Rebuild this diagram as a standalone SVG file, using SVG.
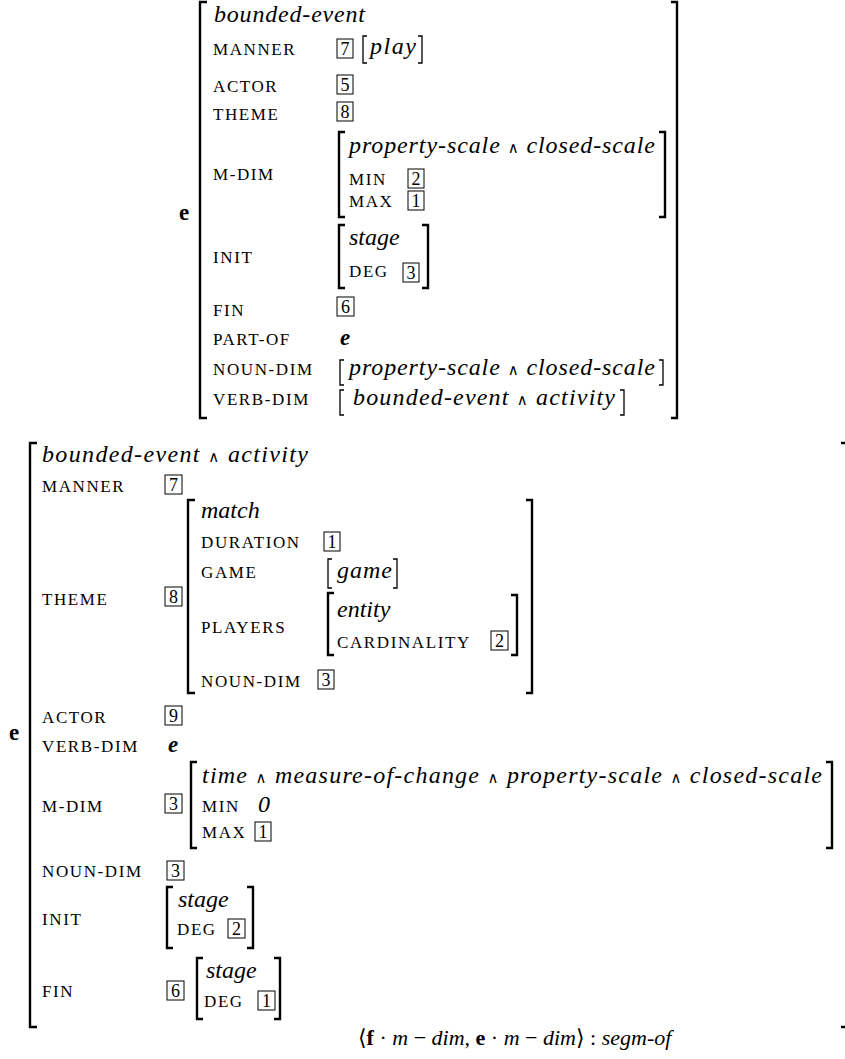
<svg xmlns="http://www.w3.org/2000/svg" width="845" height="1059" viewBox="0 0 845 1059">
<style>
text{font-family:"Liberation Serif","DejaVu Serif",serif;fill:#000}
.it{font-style:italic;font-size:24px}
.sc{font-size:17px;letter-spacing:1.6px}
.bf{font-weight:bold;font-size:23px}
.bi{font-weight:bold;font-style:italic;font-size:23px}
.n{font-size:18px;text-anchor:middle}
.w{font-style:normal;font-size:15px;font-family:"DejaVu Sans",sans-serif}
.bx{fill:none;stroke:#000;stroke-width:1}
.bb{fill:none;stroke:#000;stroke-width:2.4}
.sb{fill:none;stroke:#000;stroke-width:1.3}
.fm{font-size:22px}
.fm .it{font-size:22px}
.fm .bf{font-size:22px}
</style>
<rect width="845" height="1059" fill="#fff"/>
<g id="top">
<text class="bf" x="179" y="220">e</text>
<path class="bb" d="M207,2 H200 V418 H207"/>
<path class="bb" d="M671,2 H677 V418 H671"/>
<text class="it" x="214" y="22" textLength="151">bounded-event</text>
<text class="sc" x="213" y="55">MANNER</text>
<rect class="bx" x="337" y="39" width="16" height="19"/><text class="n" x="345" y="55">7</text>
<path class="sb" d="M367,36 H363 V63 H367"/>
<text class="it" x="370" y="54" textLength="46">play</text>
<path class="sb" d="M418,36 H422 V63 H418"/>
<text class="sc" x="213" y="92">ACTOR</text>
<rect class="bx" x="337" y="75" width="16" height="19"/><text class="n" x="345" y="91">5</text>
<text class="sc" x="213" y="120">THEME</text>
<rect class="bx" x="337" y="102" width="16" height="19"/><text class="n" x="345" y="118">8</text>
<text class="sc" x="213" y="180">M-DIM</text>
<path class="bb" d="M345,132 H339 V217 H345"/>
<path class="bb" d="M659,132 H665 V217 H659"/>
<text class="it" x="349" y="153" textLength="306">property-scale <tspan class="w">∧</tspan> closed-scale</text>
<text class="sc" x="349" y="185">MIN</text>
<rect class="bx" x="408" y="169" width="16" height="19"/><text class="n" x="416" y="185">2</text>
<text class="sc" x="349" y="207">MAX</text>
<rect class="bx" x="408" y="191" width="16" height="19"/><text class="n" x="416" y="207">1</text>
<text class="sc" x="213" y="263">INIT</text>
<path class="bb" d="M345,225 H339 V288 H345"/>
<path class="bb" d="M422,225 H428 V288 H422"/>
<text class="it" x="349" y="245">stage</text>
<text class="sc" x="349" y="277">DEG</text>
<rect class="bx" x="403" y="263" width="16" height="19"/><text class="n" x="411" y="279">3</text>
<text class="sc" x="213" y="316">FIN</text>
<rect class="bx" x="337" y="297" width="17" height="19"/><text class="n" x="345.5" y="313">6</text>
<text class="sc" x="213" y="345">PART-OF</text>
<text class="bi" x="340" y="345">e</text>
<text class="sc" x="213" y="375">NOUN-DIM</text>
<path class="sb" d="M344,360 H340 V385 H344"/>
<text class="it" x="349" y="375" textLength="306">property-scale <tspan class="w">∧</tspan> closed-scale</text>
<path class="sb" d="M659,360 H663 V385 H659"/>
<text class="sc" x="213" y="405">VERB-DIM</text>
<path class="sb" d="M344,390 H340 V415 H344"/>
<text class="it" x="353" y="405" textLength="262">bounded-event <tspan class="w">∧</tspan> activity</text>
<path class="sb" d="M620,390 H624 V415 H620"/>
</g>
<g id="bottom">
<text class="bf" x="9" y="740">e</text>
<path class="bb" d="M37,443 H30 V1027 H37"/>
<path class="bb" d="M841,443 H847 V1027 H841"/>
<text class="it" x="42" y="462" textLength="266">bounded-event <tspan class="w">∧</tspan> activity</text>
<text class="sc" x="42" y="492">MANNER</text>
<rect class="bx" x="165" y="475" width="17" height="19"/><text class="n" x="173.5" y="491">7</text>
<text class="sc" x="42" y="605">THEME</text>
<rect class="bx" x="165" y="587" width="17" height="19"/><text class="n" x="173.5" y="603">8</text>
<g id="theme">
<path class="bb" d="M195,500 H188 V693 H195"/>
<path class="bb" d="M526,500 H532 V693 H526"/>
<text class="it" x="201" y="518">match</text>
<text class="sc" x="201" y="548">DURATION</text>
<rect class="bx" x="324" y="532" width="16" height="19"/><text class="n" x="332" y="548">1</text>
<text class="sc" x="201" y="578">GAME</text>
<path class="sb" d="M332,559 H328 V588 H332"/>
<text class="it" x="337" y="578" textLength="55">game</text>
<path class="sb" d="M393,559 H397 V588 H393"/>
<text class="sc" x="201" y="633">PLAYERS</text>
<path class="bb" d="M334,593 H328 V655 H334"/>
<path class="bb" d="M511,595 H517 V655 H511"/>
<text class="it" x="337" y="617">entity</text>
<text class="sc" x="337" y="648">CARDINALITY</text>
<rect class="bx" x="491" y="631" width="17" height="19"/><text class="n" x="499.5" y="647">2</text>
<text class="sc" x="201" y="687">NOUN-DIM</text>
<rect class="bx" x="318" y="670" width="16" height="19"/><text class="n" x="326" y="686">3</text>
</g>
<text class="sc" x="42" y="723">ACTOR</text>
<rect class="bx" x="165" y="706" width="17" height="19"/><text class="n" x="173.5" y="722">9</text>
<text class="sc" x="42" y="752">VERB-DIM</text>
<text class="bi" x="168" y="752">e</text>
<text class="sc" x="42" y="812">M-DIM</text>
<rect class="bx" x="165" y="794" width="17" height="19"/><text class="n" x="173.5" y="810">3</text>
<path class="bb" d="M197,762 H191 V848 H197"/>
<path class="bb" d="M826,762 H832 V848 H826"/>
<text class="it" x="202" y="783" textLength="620">time <tspan class="w">∧</tspan> measure-of-change <tspan class="w">∧</tspan> property-scale <tspan class="w">∧</tspan> closed-scale</text>
<text class="sc" x="202" y="812">MIN</text>
<text class="it" x="258" y="812">0</text>
<text class="sc" x="202" y="838">MAX</text>
<rect class="bx" x="255" y="822" width="16" height="19"/><text class="n" x="263" y="838">1</text>
<text class="sc" x="42" y="877">NOUN-DIM</text>
<rect class="bx" x="167" y="861" width="17" height="19"/><text class="n" x="175.5" y="877">3</text>
<text class="sc" x="42" y="925">INIT</text>
<path class="bb" d="M173,887 H167 V948 H173"/>
<path class="bb" d="M247,887 H253 V948 H247"/>
<text class="it" x="178" y="907">stage</text>
<text class="sc" x="177" y="935">DEG</text>
<rect class="bx" x="228" y="919" width="17" height="19"/><text class="n" x="236.5" y="935">2</text>
<text class="sc" x="42" y="997">FIN</text>
<rect class="bx" x="167" y="981" width="17" height="19"/><text class="n" x="175.5" y="997">6</text>
<path class="bb" d="M203,958 H197 V1019 H203"/>
<path class="bb" d="M274,958 H280 V1019 H274"/>
<text class="it" x="206" y="978">stage</text>
<text class="sc" x="204" y="1007">DEG</text>
<rect class="bx" x="258" y="991" width="17" height="19"/><text class="n" x="266.5" y="1007">1</text>
</g>
<g id="formula">
<text class="fm" x="358" y="1045">⟨<tspan class="bf">f</tspan> · <tspan class="it">m</tspan> − <tspan class="it">dim</tspan>, <tspan class="bf">e</tspan> · <tspan class="it">m</tspan> − <tspan class="it">dim</tspan>⟩ : <tspan class="it">segm-of</tspan></text>
</g>
<g id="connectors"/>
</svg>
